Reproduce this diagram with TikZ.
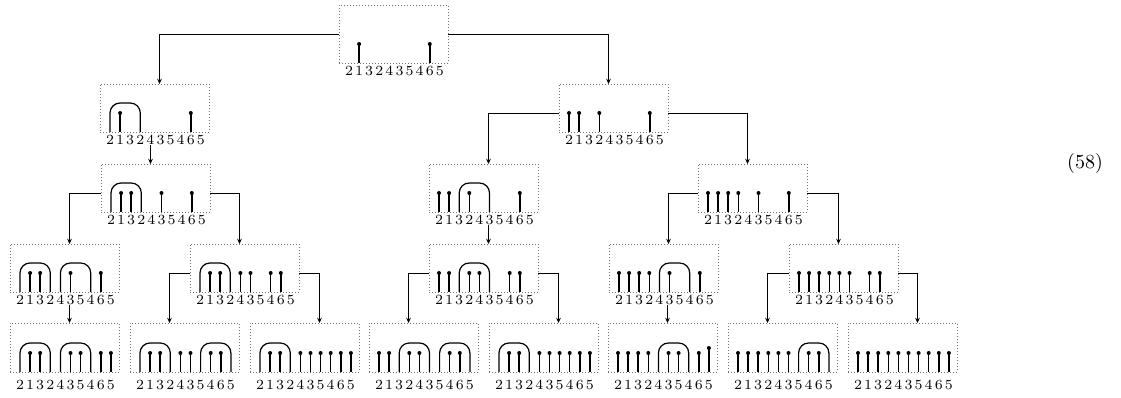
\documentclass[tikz,border=0pt]{standalone}
\usetikzlibrary{arrows.meta}
\tikzset{
  tbox/.style={draw=gray!90!black, line width=0.45pt, dash pattern=on 0.45pt off 1.05pt,
    minimum width=54.5pt, inner sep=0pt, outer sep=0pt},
  stick/.style={line width=0.75pt},
  arch/.style={line width=0.6pt, rounded corners=5pt},
  conn/.style={line width=0.45pt, -{Stealth[length=2.6pt,width=2.3pt]}},
  digits/.style={inner sep=0pt, font=\fontsize{7}{8}\selectfont},
}
\newcommand\dg[1]{\makebox[5.05pt]{#1}}
\newcommand\digrow{\dg2\dg1\dg3\dg2\dg4\dg3\dg5\dg4\dg6\dg5}
% name, left, top, bottom, height, label y
\newcommand\tbx[6]{%
  \node[tbox, minimum height=#5] (#1) at ({#2+54.5},{(#3+#4)/2}) {};
  \node[digits] (#1lab) at ({#2+55.45},#6) {\digrow};
}
% bottom, left, list
\newcommand\pins[3]{\foreach \i in {#3}{%
  \draw[stick] ({#2+10+10.1*\i},#1) -- ++(0,-19);
  \fill ({#2+10+10.1*\i},{#1-19}) circle (1pt);}}
\newcommand\arches[3]{\foreach \a/\b in {#3}{%
  \draw[arch] ({#2+10+10.1*\a},#1) -- ({#2+10+10.1*\a},{#1-29})
     -- ({#2+10+10.1*\b},{#1-29}) -- ({#2+10+10.1*\b},#1);}}
\begin{document}
\begin{tikzpicture}[x=0.5pt,y=-0.5pt]
\useasboundingbox (0,0) rectangle (1121,397);
% row 1
\tbx{root}{339}{5}{63}{29pt}{71}
\pins{63}{339}{1,8}
% row 2
\tbx{L}{100}{84}{132}{24pt}{140}
\arches{132}{100}{0/3}
\pins{132}{100}{1,8}
\tbx{R}{559}{84}{132}{24pt}{140}
\pins{132}{559}{0,1,3,8}
% row 3
\tbx{A}{101}{164}{212}{24pt}{220}
\arches{212}{101}{0/3}
\pins{212}{101}{1,2,5,8}
\tbx{B}{429}{164}{212}{24pt}{220}
\arches{212}{429}{2/5}
\pins{212}{429}{0,1,3,8}
\tbx{C}{698}{164}{212}{24pt}{220}
\pins{212}{698}{0,1,2,3,5,8}
% row 4
\tbx{D}{10}{244}{292}{24pt}{300}
\arches{292}{10}{0/3,4/7}
\pins{292}{10}{1,2,5,8}
\tbx{E}{190}{244}{292}{24pt}{300}
\arches{292}{190}{0/3}
\pins{292}{190}{1,2,4,5,7,8}
\tbx{F}{429}{244}{292}{24pt}{300}
\arches{292}{429}{2/5}
\pins{292}{429}{0,1,3,4,7,8}
\tbx{G}{609}{244}{292}{24pt}{300}
\arches{292}{609}{4/7}
\pins{292}{609}{0,1,2,3,5,8}
\tbx{H}{789}{244}{292}{24pt}{300}
\pins{292}{789}{0,1,2,3,4,5,7,8}
% row 5
\tbx{I}{10}{323}{372}{24.5pt}{385}
\arches{372}{10}{0/3,4/7}
\pins{372}{10}{1,2,5,6,8,9}
\tbx{J}{130}{323}{372}{24.5pt}{385}
\arches{372}{130}{0/3,6/9}
\pins{372}{130}{1,2,4,5,7,8}
\tbx{K}{250}{323}{372}{24.5pt}{385}
\arches{372}{250}{0/3}
\pins{372}{250}{1,2,4,5,6,7,8,9}
\tbx{M}{369}{323}{372}{24.5pt}{385}
\arches{372}{369}{2/5,6/9}
\pins{372}{369}{0,1,3,4,7,8}
\tbx{N}{489}{323}{372}{24.5pt}{385}
\arches{372}{489}{0/3}
\pins{372}{489}{1,2,4,5,6,7,8,9}
\tbx{O}{608}{323}{372}{24.5pt}{385}
\arches{372}{608}{4/7}
\pins{372}{608}{0,1,2,3,5,6,8}
\draw[stick] ({608+10+10.1*9},372) -- ++(0,-24);
\fill ({608+10+10.1*9},348) circle (1pt);
\tbx{P}{728}{323}{372}{24.5pt}{385}
\arches{372}{728}{6/9}
\pins{372}{728}{0,1,2,3,4,5,7,8}
\tbx{Q}{848}{323}{372}{24.5pt}{385}
\pins{372}{848}{0,1,2,3,4,5,6,7,8,9}
% connectors
\draw[conn] (root.west) -| ([xshift=2.5pt]L.north);
\draw[conn] (root.east) -| ([xshift=-2.5pt]R.north);
\coordinate (LA) at ([xshift=-2.5pt]A.north);
\draw[conn] (LA |- Llab.south) -- (LA);
\draw[conn] ([yshift=-2.5pt]R.west) -| ([xshift=2.5pt]B.north);
\draw[conn] ([yshift=-2.5pt]R.east) -| ([xshift=-2.5pt]C.north);
\draw[conn] ([yshift=-2.5pt]A.west) -| ([xshift=2.5pt]D.north);
\draw[conn] ([yshift=-2.5pt]A.east) -| ([xshift=-2.5pt]E.north);
\coordinate (BF) at ([xshift=2.5pt]F.north);
\draw[conn] (BF |- Blab.south) -- (BF);
\draw[conn] ([yshift=-2.5pt]C.west) -| ([xshift=2.5pt]G.north);
\draw[conn] ([yshift=-2.5pt]C.east) -| ([xshift=-2.5pt]H.north);
\coordinate (DI) at ([xshift=2.5pt]I.north);
\draw[conn] (DI |- Dlab.south) -- (DI);
\draw[conn] ([yshift=-2.5pt]E.west) -| ([xshift=-7.5pt]J.north);
\draw[conn] ([yshift=-2.5pt]E.east) -| ([xshift=7.5pt]K.north);
\draw[conn] ([yshift=-2.5pt]F.west) -| ([xshift=-7.5pt]M.north);
\draw[conn] ([yshift=-2.5pt]F.east) -| ([xshift=7.5pt]N.north);
\coordinate (GO) at ([xshift=2.5pt]O.north);
\draw[conn] (GO |- Glab.south) -- (GO);
\draw[conn] ([yshift=-2.5pt]H.west) -| ([xshift=-7.5pt]P.north);
\draw[conn] ([yshift=-2.5pt]H.east) -| ([xshift=7.5pt]Q.north);
% equation number
\node[font=\fontsize{10}{12}\selectfont, inner sep=0pt] (eqno) at (1085,163) {(58)};
\end{tikzpicture}
\end{document}
